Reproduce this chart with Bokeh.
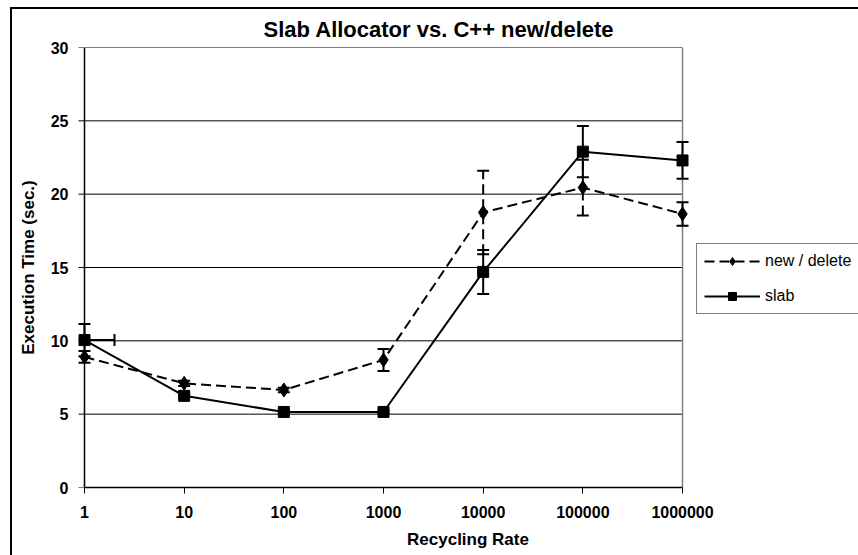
from bokeh.plotting import figure
from bokeh.models import (Range1d, FixedTicker, Whisker, TeeHead, ColumnDataSource,
                          Legend, LegendItem, PrintfTickFormatter, InlineStyleSheet)
from bokeh.embed import file_html
from bokeh.resources import INLINE

# ---- data ----
recycling_rate = [1, 10, 100, 1000, 10000, 100000, 1000000]
x_tick_labels = ["1", "10", "100", "1000", "10000", "100000", "1000000"]
y_ticks = [0, 5, 10, 15, 20, 25, 30]

new_delete = [8.9, 7.1, 6.65, 8.7, 18.75, 20.45, 18.65]
new_delete_err = [0.4, 0.18, 0.15, 0.75, 2.85, 1.9, 0.8]

slab = [10.05, 6.25, 5.15, 5.15, 14.7, 22.9, 22.3]
slab_err = [1.1, 0.1, 0.1, 0.1, 1.5, 1.75, 1.25]
slab_x_err_first = 1  # horizontal error bar on the first point (1 -> 2)

# ---- layout ----
FONT = "Liberation Sans"
W, H = 858, 555
LEFT, RIGHT, TOP, BOTTOM = 77, 0, 47, 68
DECADE_PX = 99.67          # pixels per decade on the category (log) axis
PAD_PX = 7                 # blank room left of the first category
frame_w = W - LEFT - RIGHT
x_lo = 10 ** (-PAD_PX / DECADE_PX)
x_hi = 10 ** ((frame_w - PAD_PX) / DECADE_PX)
TICK = 6 / DECADE_PX       # y tick length, decades

p = figure(width=W, height=H, x_axis_type="log",
           x_range=Range1d(x_lo, x_hi), y_range=Range1d(0, 30),
           output_backend="svg", toolbar_location=None,
           min_border_left=LEFT, min_border_right=RIGHT,
           min_border_top=TOP, min_border_bottom=BOTTOM)
p.outline_line_color = None
p.background_fill_color = "white"
p.border_fill_color = "white"
# outer chart-area frame (only its left and top edges fall inside the window)
p.stylesheets = [InlineStyleSheet(css="""
:host { position: relative; overflow: hidden; }
:host::after {
  content: "";
  position: absolute;
  left: 10px; top: 7px; right: 0; bottom: 0;
  border-left: 2px solid #000;
  border-top: 2px solid #000;
  pointer-events: none;
  z-index: 10;
}
""")]

# title
p.title.text = "Slab Allocator vs. C++ new/delete"
p.title.align = "left"
p.title.offset = 186
p.title.text_font = FONT
p.title.text_font_size = "22px"
p.title.text_font_style = "bold"
p.title.text_color = "black"
p.title.standoff = 11

# grid lines drawn only across the data range
p.xgrid.visible = False
p.ygrid.visible = False
grid_y = [t for t in y_ticks if t > 0]
p.segment(x0=[recycling_rate[0]] * len(grid_y), x1=[recycling_rate[-1]] * len(grid_y),
          y0=grid_y, y1=grid_y, line_color="black", line_width=1)
p.segment(x0=[recycling_rate[-1]], x1=[recycling_rate[-1]], y0=[y_ticks[0]], y1=[y_ticks[-1]],
          line_color="#808080", line_width=1.5)
# value-axis line and its outward tick marks at the first category
p.segment(x0=[recycling_rate[0]], x1=[recycling_rate[0]], y0=[y_ticks[0]], y1=[y_ticks[-1]],
          line_color="black", line_width=1.5)
p.segment(x0=[10 ** -TICK] * len(y_ticks), x1=[recycling_rate[0]] * len(y_ticks),
          y0=y_ticks, y1=y_ticks, line_color="black", line_width=1)

# x axis
xa = p.xaxis[0]
xa.ticker = FixedTicker(ticks=recycling_rate)
xa.formatter = PrintfTickFormatter(format="%d")
xa.major_label_overrides = {v: l for v, l in zip(recycling_rate, x_tick_labels)}
xa.bounds = (recycling_rate[0], recycling_rate[-1])
xa.axis_label = "Recycling Rate"
xa.minor_tick_line_color = None
xa.major_tick_in = 0
xa.major_tick_out = 6
xa.axis_line_width = 1.5
xa.axis_line_color = "black"
xa.major_tick_line_color = "black"
xa.major_label_text_font = FONT
xa.major_label_text_font_size = "16px"
xa.major_label_text_font_style = "bold"
xa.major_label_text_color = "black"
xa.major_label_standoff = 12
xa.axis_label_text_font = FONT
xa.axis_label_text_font_size = "17px"
xa.axis_label_text_font_style = "bold"
xa.axis_label_text_color = "black"
xa.axis_label_standoff = 9

# y axis (labels only; line and ticks drawn above at x = 1)
ya = p.yaxis[0]
ya.ticker = FixedTicker(ticks=y_ticks)
ya.axis_label = "Execution Time (sec.)"
ya.minor_tick_line_color = None
ya.major_tick_in = 0
ya.major_tick_out = 0
ya.axis_line_color = None
ya.major_tick_line_color = None
ya.major_label_text_font = FONT
ya.major_label_text_font_size = "16px"
ya.major_label_text_font_style = "bold"
ya.major_label_text_color = "black"
ya.major_label_standoff = 9
ya.axis_label_text_font = FONT
ya.axis_label_text_font_size = "17px"
ya.axis_label_text_font_style = "bold"
ya.axis_label_text_color = "black"
ya.axis_label_standoff = 10

# error bars
nd_src = ColumnDataSource(dict(x=recycling_rate,
                               lo=[v - e for v, e in zip(new_delete, new_delete_err)],
                               up=[v + e for v, e in zip(new_delete, new_delete_err)]))
sl_src = ColumnDataSource(dict(x=recycling_rate,
                               lo=[v - e for v, e in zip(slab, slab_err)],
                               up=[v + e for v, e in zip(slab, slab_err)]))
sl_xsrc = ColumnDataSource(dict(y=[slab[0]], lo=[recycling_rate[0]],
                                up=[recycling_rate[0] + slab_x_err_first]))

def head():
    return TeeHead(size=12, line_color="black", line_width=2)

p.add_layout(Whisker(source=nd_src, base="x", lower="lo", upper="up", dimension="height",
                     line_color="black", line_width=2, line_dash="10 5",
                     lower_head=head(), upper_head=head(), level="glyph"))
p.add_layout(Whisker(source=sl_src, base="x", lower="lo", upper="up", dimension="height",
                     line_color="black", line_width=2,
                     lower_head=head(), upper_head=head(), level="glyph"))
p.add_layout(Whisker(source=sl_xsrc, base="y", lower="lo", upper="up", dimension="width",
                     line_color="black", line_width=2,
                     lower_head=None, upper_head=head(), level="glyph"))

# series
nd_line = p.line(recycling_rate, new_delete, line_color="black", line_width=2, line_dash="10 5")
nd_pts = p.scatter(recycling_rate, new_delete, marker="diamond", size=14,
                   fill_color="black", line_color="black")
sl_line = p.line(recycling_rate, slab, line_color="black", line_width=2)
sl_pts = p.scatter(recycling_rate, slab, marker="square", size=11,
                   fill_color="black", line_color="black")

legend = Legend(items=[LegendItem(label="new / delete", renderers=[nd_line, nd_pts]),
                       LegendItem(label="slab", renderers=[sl_line, sl_pts])],
                location=(619, 173))
legend.label_text_font = FONT
legend.label_text_font_size = "16px"
legend.label_text_color = "black"
legend.glyph_width = 56
legend.glyph_height = 20
legend.spacing = 15
legend.padding = 7
legend.margin = 0
legend.label_standoff = 5
legend.label_width = 20
legend.border_line_color = "black"
legend.border_line_width = 1
legend.background_fill_color = "white"
legend.background_fill_alpha = 1
p.add_layout(legend)

open("out.html", "w").write(file_html(p, INLINE))
